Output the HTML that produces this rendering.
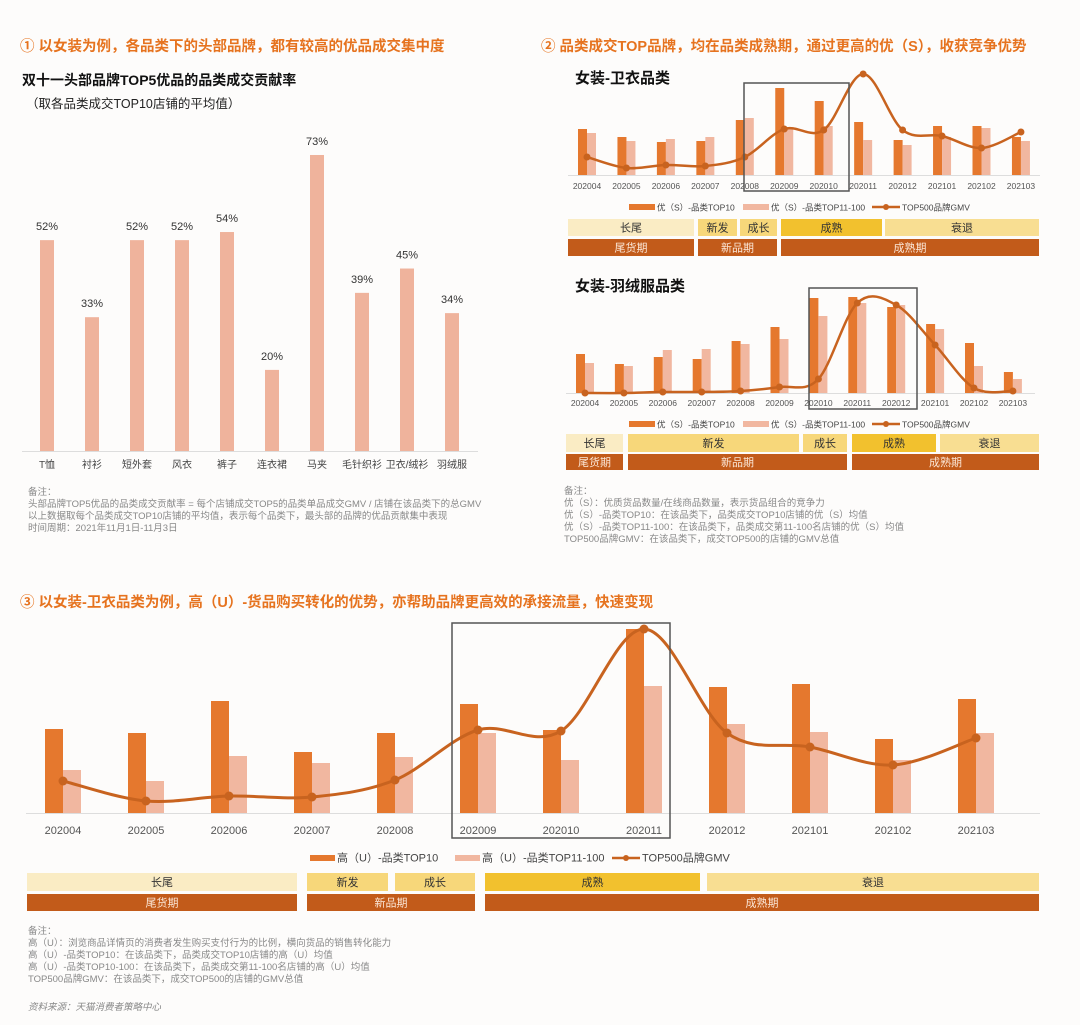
<!DOCTYPE html>
<html><head><meta charset="utf-8">
<style>
html,body{margin:0;padding:0;background:#fdfcfb;}
svg{display:block;font-family:"Liberation Sans","Noto Sans CJK SC",sans-serif;}
</style></head>
<body>
<svg id="s" width="1080" height="1025" viewBox="0 0 1080 1025" xmlns="http://www.w3.org/2000/svg">
<rect width="1080" height="1025" fill="#fdfcfb"/>
<g font-weight="bold" fill="#e6731f" font-size="14.5">
<text x="20" y="51">① 以女装为例，各品类下的头部品牌，都有较高的优品成交集中度</text>
<text x="541" y="51">② 品类成交TOP品牌，均在品类成熟期，通过更高的优（S），收获竞争优势</text>
<text x="20" y="607">③ 以女装-卫衣品类为例，高（U）-货品购买转化的优势，亦帮助品牌更高效的承接流量，快速变现</text>
</g>
<text x="22" y="85" font-size="14" font-weight="bold" fill="#111">双十一头部品牌TOP5优品的品类成交贡献率</text>
<text x="26" y="108" font-size="12.5" fill="#222">（取各品类成交TOP10店铺的平均值）</text>
<text x="575" y="83" font-size="15" font-weight="bold" fill="#111">女装-卫衣品类</text>
<text x="575" y="291" font-size="15" font-weight="bold" fill="#111">女装-羽绒服品类</text>
<g font-size="9.5" fill="#888">
<text x="28" y="495">备注：</text>
<text x="28" y="507">头部品牌TOP5优品的品类成交贡献率 = 每个店铺成交TOP5的品类单品成交GMV / 店铺在该品类下的总GMV</text>
<text x="28" y="519">以上数据取每个品类成交TOP10店铺的平均值，表示每个品类下，最头部的品牌的优品贡献集中表现</text>
<text x="28" y="531">时间周期：2021年11月1日-11月3日</text>
<text x="564" y="494">备注：</text>
<text x="564" y="506">优（S）：优质货品数量/在线商品数量，表示货品组合的竞争力</text>
<text x="564" y="518">优（S）-品类TOP10：在该品类下，品类成交TOP10店铺的优（S）均值</text>
<text x="564" y="530">优（S）-品类TOP11-100：在该品类下，品类成交第11-100名店铺的优（S）均值</text>
<text x="564" y="542">TOP500品牌GMV：在该品类下，成交TOP500的店铺的GMV总值</text>
<text x="28" y="934">备注：</text>
<text x="28" y="946">高（U）：浏览商品详情页的消费者发生购买支付行为的比例，横向货品的销售转化能力</text>
<text x="28" y="958">高（U）-品类TOP10：在该品类下，品类成交TOP10店铺的高（U）均值</text>
<text x="28" y="970">高（U）-品类TOP10-100：在该品类下，品类成交第11-100名店铺的高（U）均值</text>
<text x="28" y="982">TOP500品牌GMV：在该品类下，成交TOP500的店铺的GMV总值</text>
<text x="28" y="1010" font-style="italic">资料来源：天猫消费者策略中心</text>
</g>
<g id="g"></g>
</svg>
<script>
var D='#e5782e',L='#f1b7a0',LN='#c8631f',BAND='#c25b1a';
var out='';
function r(x,y,w,h,c){out+='<rect x="'+x+'" y="'+y+'" width="'+w+'" height="'+h+'" fill="'+c+'"/>';}
function t(x,y,s,sz,c,a,extra){out+='<text x="'+x+'" y="'+y+'" font-size="'+sz+'" fill="'+c+'" text-anchor="'+(a||'middle')+'" '+(extra||'')+'>'+s+'</text>';}
// chart1
var cats=['T恤','衬衫','短外套','风衣','裤子','连衣裙','马夹','毛针织衫','卫衣/绒衫','羽绒服'];
var vals=[52,33,52,52,54,20,73,39,45,34];
out+='<line x1="22" y1="451.5" x2="478" y2="451.5" stroke="#ddd"/>';
for(var i=0;i<10;i++){var cx=47+45*i,h=vals[i]*4.055;r(cx-7,451-h,14,h,'#efb39c');t(cx,451-h-10,vals[i]+'%',11,'#333');t(cx,468,cats[i],10,'#444');}
var months=['202004','202005','202006','202007','202008','202009','202010','202011','202012','202101','202102','202103'];
function smooth(p){var d='M'+p[0][0]+','+p[0][1];for(var i=0;i<p.length-1;i++){var p0=p[i-1]||p[i],p1=p[i],p2=p[i+1],p3=p[i+2]||p2;d+=' C'+(p1[0]+(p2[0]-p0[0])/6)+','+(p1[1]+(p2[1]-p0[1])/6)+' '+(p2[0]-(p3[0]-p1[0])/6)+','+(p2[1]-(p3[1]-p1[1])/6)+' '+p2[0]+','+p2[1];}return d;}
function chart(o){
 out+='<line x1="'+o.ax0+'" y1="'+(o.base+0.5)+'" x2="'+o.ax1+'" y2="'+(o.base+0.5)+'" stroke="#ddd"/>';
 var pts=[];
 for(var i=0;i<12;i++){var cx=o.x0+o.step*i;r(cx-o.bw,o.d[i],o.bw,o.base-o.d[i],D);r(cx,o.l[i],o.bw,o.base-o.l[i],L);pts.push([cx,o.ln[i]]);t(cx,o.ly,months[i],o.fs,'#555');}
 out+='<path d="'+smooth(pts)+'" fill="none" stroke="'+LN+'" stroke-width="'+o.lw+'"/>';
 pts.forEach(function(p){out+='<circle cx="'+p[0]+'" cy="'+p[1]+'" r="'+o.cr+'" fill="'+LN+'"/>';});
 var b=o.box;out+='<rect x="'+b[0]+'" y="'+b[1]+'" width="'+(b[2]-b[0])+'" height="'+(b[3]-b[1])+'" fill="none" stroke="#555" stroke-width="1.5"/>';
 var g=o.leg;
 r(g[0],o.legy-3,g[1]-g[0],6,D);t(g[1]+2,o.legy+3.5,o.n1,o.lfs,'#444','start');
 r(g[2],o.legy-3,g[3]-g[2],6,L);t(g[3]+2,o.legy+3.5,o.n2,o.lfs,'#444','start');
 out+='<line x1="'+g[4]+'" y1="'+o.legy+'" x2="'+g[5]+'" y2="'+o.legy+'" stroke="'+LN+'" stroke-width="2.5"/><circle cx="'+(g[4]+g[5])/2+'" cy="'+o.legy+'" r="3" fill="'+LN+'"/>';
 t(g[5]+2,o.legy+3.5,'TOP500品牌GMV',o.lfs,'#444','start');
 o.r1.forEach(function(s){r(s[0],o.r1y[0],s[1]-s[0],o.r1y[1]-o.r1y[0],s[3]);t((s[0]+s[1])/2,(o.r1y[0]+o.r1y[1])/2+4,s[2],o.sfs,'#333');});
 o.r2.forEach(function(s){r(s[0],o.r2y[0],s[1]-s[0],o.r2y[1]-o.r2y[0],BAND);t((s[0]+s[1])/2,(o.r2y[0]+o.r2y[1])/2+4,s[2],o.sfs,'#fbe6d6');});
}
var C1='#faecc4',C2='#f7d77a',C3='#f2c12e',C4='#f8de92';
chart({x0:587,step:39.45,bw:9,base:175,ax0:568,ax1:1040,ly:189,fs:8.5,lw:2.5,cr:3.5,
 d:[129,137,142,141,120,88,101,122,140,126,126,137],
 l:[133,141,139,137,118,128,126,140,145,137,128,141],
 ln:[157,168,165,166,157,129,130,74,130,136,148,132],
 box:[744,83,849,191],leg:[629,655,743,769,872,900],legy:207,lfs:8.5,
 n1:'优（S）-品类TOP10',n2:'优（S）-品类TOP11-100',
 r1y:[219,236],r2y:[239,256],sfs:11,
 r1:[[568,694,'长尾',C1],[698,737,'新发',C2],[740,777,'成长',C2],[781,882,'成熟',C3],[885,1039,'衰退',C4]],
 r2:[[568,694,'尾货期'],[698,777,'新品期'],[781,1039,'成熟期']]});
chart({x0:585,step:38.9,bw:9,base:393,ax0:566,ax1:1035,ly:406,fs:8.5,lw:2.5,cr:3.5,
 d:[354,364,357,359,341,327,298,297,307,324,343,372],
 l:[363,366,350,349,344,339,316,303,305,329,366,379],
 ln:[393,393,392,392,391,387,379,303,305,345,388,391],
 box:[809,288,917,409],leg:[629,655,743,769,872,900],legy:424,lfs:8.5,
 n1:'优（S）-品类TOP10',n2:'优（S）-品类TOP11-100',
 r1y:[434,452],r2y:[454,470],sfs:11,
 r1:[[566,623,'长尾',C1],[628,799,'新发',C2],[803,847,'成长',C2],[852,936,'成熟',C3],[940,1039,'衰退',C4]],
 r2:[[566,623,'尾货期'],[628,847,'新品期'],[852,1039,'成熟期']]});
chart({x0:63,step:83,bw:18,base:813,ax0:26,ax1:1040,ly:834,fs:11,lw:3,cr:4.5,
 d:[729,733,701,752,733,704,730,629,687,684,739,699],
 l:[770,781,756,763,757,733,760,686,724,732,760,733],
 ln:[781,801,796,797,780,730,731,629,733,747,765,738],
 box:[452,623,670,838],leg:[310,335,455,480,612,640],legy:858,lfs:11,
 n1:'高（U）-品类TOP10',n2:'高（U）-品类TOP11-100',
 r1y:[873,891],r2y:[894,911],sfs:11,
 r1:[[27,297,'长尾',C1],[307,388,'新发',C2],[395,475,'成长',C2],[485,700,'成熟',C3],[707,1039,'衰退',C4]],
 r2:[[27,297,'尾货期'],[307,475,'新品期'],[485,1039,'成熟期']]});
document.getElementById('g').innerHTML=out;
</script>
</body></html>
